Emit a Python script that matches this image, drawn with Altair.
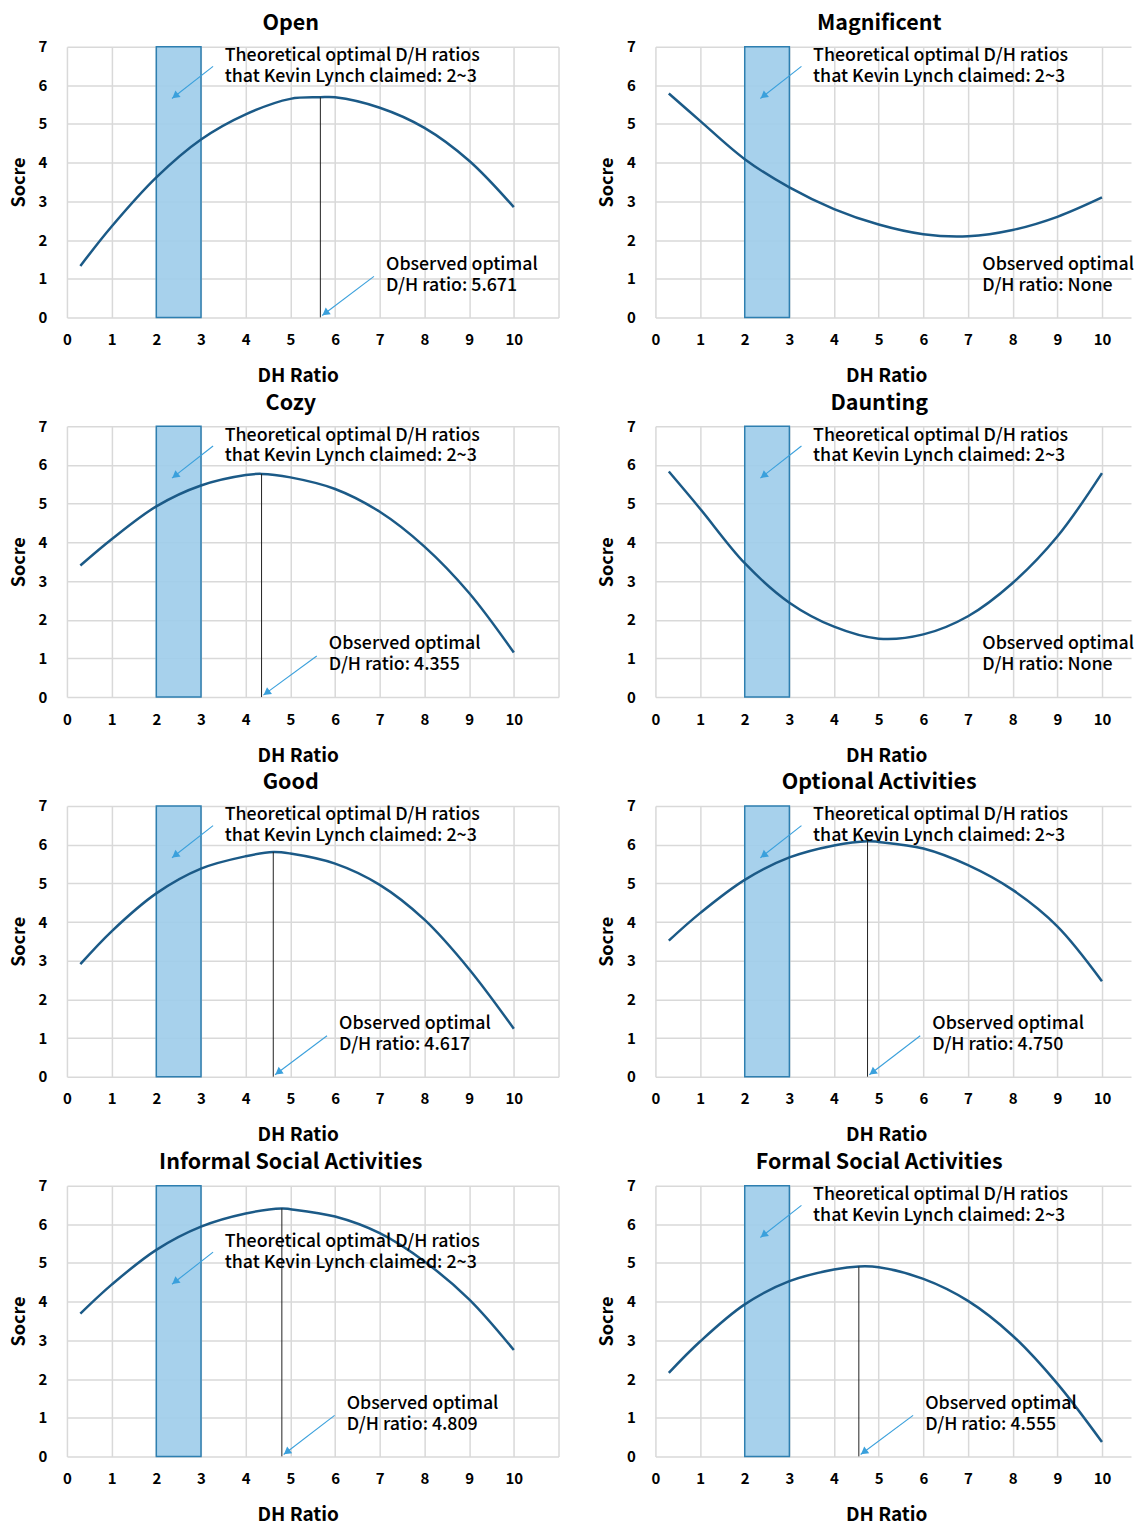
import math
import altair as alt
import pandas as pd

# ---------------- data ----------------
PANELS = ["Open", "Magnificent", "Cozy", "Daunting", "Good",
          "Optional Activities", "Informal Social Activities", "Formal Social Activities"]
DH_RATIO = [0.3, 1, 2, 3, 4, 5, 6, 7, 8, 9, 10]
SCORE_OPEN = [1.33, 2.35, 3.62, 4.60, 5.25, 5.65, 5.69, 5.42, 4.90, 4.05, 2.85]
SCORE_MAGNIFICENT = [5.79, 5.08, 4.09, 3.36, 2.80, 2.40, 2.15, 2.10, 2.26, 2.60, 3.10]
SCORE_COZY = [3.40, 4.08, 4.93, 5.47, 5.74, 5.68, 5.38, 4.79, 3.89, 2.69, 1.15]
SCORE_DAUNTING = [5.83, 4.87, 3.46, 2.44, 1.82, 1.51, 1.62, 2.09, 2.95, 4.15, 5.79]
SCORE_GOOD = [2.91, 3.76, 4.74, 5.38, 5.70, 5.77, 5.51, 4.96, 4.06, 2.78, 1.24]
SCORE_OPTIONAL = [3.52, 4.23, 5.09, 5.67, 5.98, 6.07, 5.90, 5.47, 4.83, 3.89, 2.47]
SCORE_INFORMAL = [3.69, 4.44, 5.34, 5.94, 6.28, 6.39, 6.20, 5.77, 5.04, 4.06, 2.75]
SCORE_FORMAL = [2.16, 2.97, 3.93, 4.53, 4.83, 4.89, 4.59, 4.02, 3.12, 1.88, 0.37]
SCORES = [SCORE_OPEN, SCORE_MAGNIFICENT, SCORE_COZY, SCORE_DAUNTING,
          SCORE_GOOD, SCORE_OPTIONAL, SCORE_INFORMAL, SCORE_FORMAL]

OPT_X = [5.671, None, 4.355, None, 4.617, 4.750, 4.809, 4.555]
OPT_Y = [5.69, None, 5.77, None, 5.81, 6.09, 6.41, 4.91]
OPT_LABEL = ["5.671", "None", "4.355", "None", "4.617", "4.750", "4.809", "4.555"]

BAND = [2, 3]
THEO_LINES = ["Theoretical optimal D/H ratios", "that Kevin Lynch claimed: 2~3"]
OBS_LINE1 = "Observed optimal"

# annotation placement (data units)
THEO_TEXT_X = 3.53
THEO_TEXT_Y = [6.76, 6.76, 6.76, 6.76, 6.76, 6.76, 5.55, 6.76]
OBS_TEXT_X = [7.14, 7.32, 5.86, 7.32, 6.09, 6.20, 6.26, 6.04]
OBS_TEXT_Y = 1.36
LINE_GAP = 0.54

PX_X = 44.7
PX_Y = 38.7
FONT = "Noto Sans CJK KR"
ARROW = "#3aa0dc"
TITLE_CENTER_PX = 224      # panel title centre, px from plot left
AXIS_TITLE_CENTER_PX = 231  # "DH Ratio" centre, px from plot left


def arrow_layers(x1, y1, x2, y2, xenc, yenc):
    dxp = (x2 - x1) * PX_X
    dyp = -(y2 - y1) * PX_Y
    L = math.hypot(dxp, dyp)
    ux, uy = dxp / L, dyp / L
    ang = math.degrees(math.atan2(ux, -uy)) % 360
    back = 4.0
    hx = x2 - back * ux / PX_X
    hy = y2 + back * uy / PX_Y
    seg = pd.DataFrame({"x": [x1], "y": [y1], "x2": [x2], "y2": [y2]})
    head = pd.DataFrame({"x": [hx], "y": [hy]})
    r = alt.Chart(seg).mark_rule(color=ARROW, strokeWidth=1.1).encode(
        x=xenc, y=yenc, x2="x2:Q", y2="y2:Q")
    h = alt.Chart(head).mark_point(shape="triangle-up", filled=True, color=ARROW,
                                   size=70, angle=ang, opacity=1).encode(x=xenc, y=yenc)
    return [r, h]


def panel(i):
    left = i % 2 == 0
    xmax = 11 if left else 10.65
    width = round(xmax * PX_X)
    height = round(7 * PX_Y)
    xvals = list(range(0, int(math.floor(xmax)) + 1))
    xs = alt.X("x:Q", scale=alt.Scale(domain=[0, xmax], nice=False, zero=False),
               axis=alt.Axis(values=xvals, labelExpr="datum.value > 10 ? '' : datum.label",
                             title="DH Ratio", labelPadding=15, titlePadding=19,
                             titleX=AXIS_TITLE_CENTER_PX, titleAlign="center",
                             labelFontSize=15, labelFontWeight="bold", labelFlush=False,
                             labelOverlap=False,
                             titleFontSize=19, titleFontWeight="bold"))
    ys = alt.Y("y:Q", scale=alt.Scale(domain=[0, 7], nice=False),
               axis=alt.Axis(values=list(range(8)), title="Socre", labelPadding=20,
                             titlePadding=10, labelFontSize=15, labelFontWeight="bold",
                             labelFlush=False, labelOverlap=False,
                             titleFontSize=18, titleFontWeight="bold"))

    band = alt.Chart(pd.DataFrame({"x": [BAND[0]], "x2": [BAND[1]], "y": [0], "y2": [7]})).mark_rect(
        fill="#9fcdea", fillOpacity=0.92, stroke="#2e7fb0", strokeWidth=1.5).encode(
        x=xs, x2="x2:Q", y=ys, y2="y2:Q")

    cx = list(DH_RATIO)
    cy = list(SCORES[i])
    if OPT_X[i] is not None:
        pts = sorted(zip(cx + [OPT_X[i]], cy + [OPT_Y[i]]))
        cx = [p[0] for p in pts]
        cy = [p[1] for p in pts]
    curve = alt.Chart(pd.DataFrame({"x": cx, "y": cy})).mark_line(
        interpolate="catmull-rom", color="#1b5a87", strokeWidth=2.5).encode(x=xs, y=ys)

    layers = [band, curve]
    if OPT_X[i] is not None:
        vr = alt.Chart(pd.DataFrame({"x": [OPT_X[i]], "y": [0], "y2": [OPT_Y[i]]})).mark_rule(
            color="#222222", strokeWidth=1).encode(x=xs, y=ys, y2="y2:Q")
        layers.append(vr)

    # theoretical annotation
    ty = THEO_TEXT_Y[i]
    layers += arrow_layers(THEO_TEXT_X - 0.26, ty - 0.27, 2.35, ty - 1.10, xs, ys)
    tdf = pd.DataFrame({"x": [THEO_TEXT_X, THEO_TEXT_X], "y": [ty, ty - LINE_GAP], "t": THEO_LINES})
    layers.append(alt.Chart(tdf).mark_text(align="left", baseline="middle", fontSize=17.8,
                                           fontWeight=500, font=FONT, color="#000000").encode(
        x=xs, y=ys, text="t:N"))

    # observed annotation
    ox = OBS_TEXT_X[i]
    odf = pd.DataFrame({"x": [ox, ox], "y": [OBS_TEXT_Y, OBS_TEXT_Y - LINE_GAP],
                        "t": [OBS_LINE1, "D/H ratio: " + OPT_LABEL[i]]})
    layers.append(alt.Chart(odf).mark_text(align="left", baseline="middle", fontSize=17.8,
                                           fontWeight=500, font=FONT, color="#000000").encode(
        x=xs, y=ys, text="t:N"))
    if OPT_X[i] is not None:
        layers += arrow_layers(ox - 0.27, 1.06, OPT_X[i] + 0.04, 0.05, xs, ys)

    return alt.layer(*layers).properties(
        width=width, height=height,
        title=alt.TitleParams(PANELS[i], fontSize=21.5, fontWeight="bold", font=FONT,
                              anchor="middle", frame="group", dx=TITLE_CENTER_PX - width / 2,
                              offset=5, color="#000000"))


rows = [alt.hconcat(panel(2 * r), panel(2 * r + 1), spacing=40) for r in range(4)]
chart = alt.vconcat(*rows, spacing=7).properties(
    padding={"left": 2, "top": 4, "right": 0, "bottom": 0}
).configure(font=FONT).configure_view(stroke=None).configure_axis(
    domain=False, ticks=False, grid=True, gridColor="#d9d9d9", gridWidth=1.5,
    labelColor="#000000", titleColor="#000000", labelFont=FONT, titleFont=FONT
)

chart.save("out.html", embed_options={"renderer": "svg", "actions": False})
